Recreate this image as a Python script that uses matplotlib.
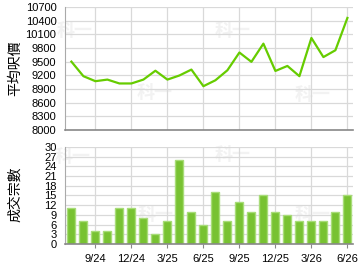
import matplotlib.pyplot as plt

plt.rcParams['font.family'] = ['Liberation Sans', 'Noto Sans CJK TC', 'DejaVu Sans']

# Monthly data 7/24 - 6/26
months = ["7/24", "8/24", "9/24", "10/24", "11/24", "12/24", "1/25", "2/25",
          "3/25", "4/25", "5/25", "6/25", "7/25", "8/25", "9/25", "10/25",
          "11/25", "12/25", "1/26", "2/26", "3/26", "4/26", "5/26", "6/26"]
avg_price = [9500, 9180, 9070, 9105, 9020, 9020, 9105, 9300, 9105, 9195,
             9325, 8960, 9090, 9310, 9700, 9495, 9895, 9295, 9405, 9180,
             10020, 9600, 9750, 10460]
deals = [11, 7, 4, 4, 11, 11, 8, 3, 7, 26, 10, 6, 16, 7, 13, 10, 15, 10,
         9, 7, 7, 7, 10, 15]
tick_labels = ["9/24", "12/24", "3/25", "6/25", "9/25", "12/25", "3/26", "6/26"]

x = list(range(len(months)))
tick_pos = [months.index(t) for t in tick_labels]

fig = plt.figure(figsize=(3.6, 2.7), dpi=100)
ax1 = fig.add_axes([0.18, 0.519, 0.80, 0.455])
ax2 = fig.add_axes([0.18, 0.096, 0.80, 0.36])

# faint watermarks behind the axes
for wx, wy in [(57, 36), (137, 98), (215, 36), (295, 100),
               (55, 162), (138, 220), (215, 160), (295, 220)]:
    fig.text(wx / 360, 1 - wy / 270, "科一", fontsize=13, color="#f2f2f2",
             fontweight="bold", zorder=-1)

grid_c = "#d9d9d9"
for ax in (ax1, ax2):
    ax.patch.set_alpha(0)
    ax.set_xlim(-0.55, 23.45)
    ax.set_xticks(tick_pos)
    ax.grid(True, color=grid_c, linewidth=0.9)
    ax.set_axisbelow(True)
    for s in ("top", "right"):
        ax.spines[s].set_visible(False)
    ax.spines["left"].set_color("#aaaaaa")
    ax.spines["bottom"].set_color("#888888")
    ax.spines["bottom"].set_linewidth(1.2)
    ax.tick_params(labelsize=8, length=3, color="#888888", pad=4)

# Top: average price per sq ft
ax1.plot(x, avg_price, color="#66cc00", linewidth=1.6)
ax1.set_ylim(8000, 10700)
ax1.set_yticks(range(8000, 10701, 300))
ax1.tick_params(axis="x", labelbottom=False, length=0)
ax1.tick_params(axis="y", length=0, pad=6)

# Bottom: number of transactions
ax2.bar(x, deals, width=0.68, color="#78c232", edgecolor="#a8dc78",
        linewidth=1.0)
ax2.set_ylim(0, 30)
ax2.set_yticks(range(0, 31, 3))
ax2.set_xticklabels(tick_labels)
ax2.tick_params(axis="y", length=0, pad=6)

fig.text(15 / 360, 1 - 68 / 270, "平均呎價", rotation=90, ha="center",
         va="center", fontsize=10)
fig.text(15 / 360, 1 - 194 / 270, "成交宗數", rotation=90, ha="center",
         va="center", fontsize=10)

fig.savefig("out.png", dpi=100)
